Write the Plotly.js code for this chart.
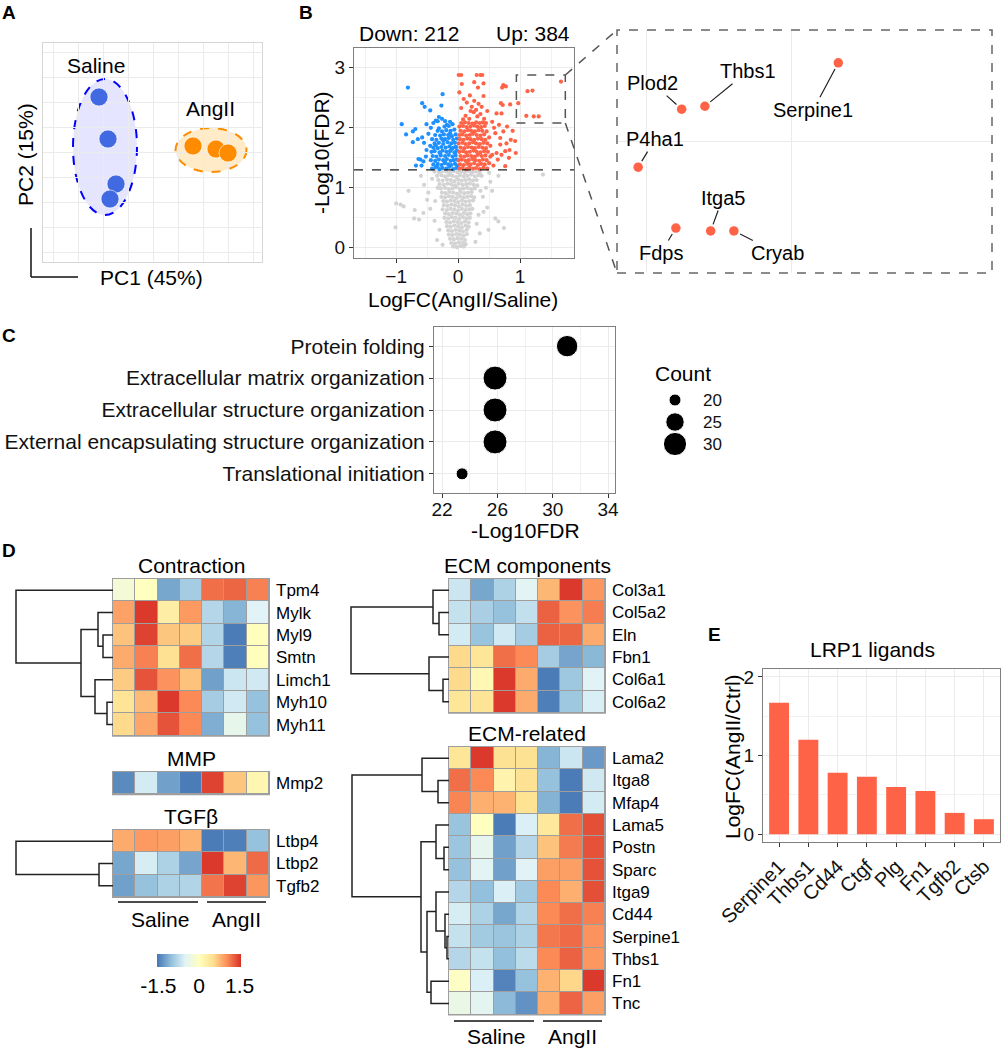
<!DOCTYPE html>
<html><head><meta charset="utf-8">
<script src="https://cdn.plot.ly/plotly-3.0.1.min.js"></script>
<style>html,body{margin:0;padding:0;background:#fff}#chart{width:1002px;height:1050px}</style>
</head><body><div id="chart"></div>
<script>
// ================= DATA =================
// Panel A: PCA scores
const salinePC1 = [-1.6, 2.0, 5.2, 2.8];
const salinePC2 = [42.0, 25.2, 7.2, 1.2];
const angiiPC1 = [36.0, 45.2, 50.0];
const angiiPC2 = [22.4, 21.2, 19.6];
// confidence ellipses: [centerX, centerY, radiusX, radiusY]
const ellipseSaline = [0.8, 22.0, 12.8, 27.2];
const ellipseAngII = [43.2, 20.8, 14.2, 8.8];

// Panel B: volcano
const downCount = 212, upCount = 384, fdrCut = 1.3;
const downPoints = [
[-0.81,2.67],[-0.25,2.56],[-0.58,2.41],[-0.54,2.35],[-0.45,2.29],[-0.27,2.37],[-0.91,2.06],[-0.84,1.89],[-0.73,1.94],[-0.69,1.98],
[-0.73,1.76],[-0.65,1.81],[-0.58,1.84],[-0.64,1.48],[-0.61,1.47],[-0.68,1.37],[-0.51,2.06],[-0.40,2.08],[-0.36,2.12],[-0.31,2.18],
[-0.33,2.11],[-0.21,2.11],[-0.13,2.10],[-0.15,2.03],[-0.45,1.70],[-0.51,1.63],[-0.52,1.52],[-0.56,1.44],[-0.59,1.37],[-0.05,1.68],
[-0.05,1.58],[-0.44,2.00],[-0.26,2.15],[-0.18,2.05],[-0.09,2.06],[-0.48,1.90],[-0.55,1.75],
[-0.42,1.32],[-0.36,1.34],[-0.30,1.31],[-0.25,1.33],[-0.19,1.32],[-0.14,1.35],[-0.08,1.31],[-0.03,1.33],
[-0.40,1.39],[-0.33,1.40],[-0.27,1.38],[-0.22,1.41],[-0.16,1.39],[-0.11,1.38],[-0.05,1.40],[-0.01,1.37],
[-0.44,1.46],[-0.37,1.45],[-0.31,1.47],[-0.24,1.46],[-0.18,1.48],[-0.12,1.45],[-0.07,1.46],[-0.02,1.47],
[-0.41,1.53],[-0.35,1.52],[-0.28,1.54],[-0.21,1.53],[-0.15,1.55],[-0.09,1.52],[-0.04,1.54],
[-0.43,1.60],[-0.38,1.61],[-0.30,1.59],[-0.25,1.62],[-0.19,1.60],[-0.13,1.61],[-0.06,1.59],[-0.02,1.62],
[-0.40,1.67],[-0.33,1.66],[-0.27,1.68],[-0.20,1.67],[-0.14,1.69],[-0.09,1.66],[-0.03,1.68],
[-0.38,1.74],[-0.31,1.75],[-0.24,1.73],[-0.17,1.76],[-0.11,1.74],[-0.05,1.75],
[-0.42,1.81],[-0.35,1.80],[-0.27,1.82],[-0.21,1.81],[-0.15,1.83],[-0.08,1.80],[-0.02,1.82],
[-0.37,1.88],[-0.29,1.87],[-0.23,1.89],[-0.16,1.88],[-0.10,1.86],[-0.04,1.89],
[-0.33,1.95],[-0.26,1.94],[-0.19,1.96],[-0.12,1.95],[-0.06,1.97],
[-0.34,1.36],[-0.21,1.43],[-0.29,1.57],[-0.11,1.64],[-0.36,1.71],[-0.24,1.79],[-0.13,1.91],[-0.31,1.99],[-0.22,2.02]
];
const upPoints = [
[0.01,2.88],[0.05,2.88],[0.30,2.88],[0.36,2.88],[0.39,2.88],
[0.06,2.73],[0.26,2.76],[0.32,2.67],[0.41,2.74],[0.02,2.59],[0.73,2.71],[0.77,2.69],[0.71,2.67],[0.19,2.54],[0.41,2.53],
[0.14,2.42],[0.26,2.45],[0.33,2.40],[0.22,2.35],[0.38,2.35],[0.29,2.30],[0.25,2.26],[0.36,2.23],[0.69,2.41],[0.72,2.38],
[0.84,2.39],[0.62,2.24],[0.70,2.24],[0.47,2.28],[0.09,2.48],[0.05,2.33],[0.12,2.20],[0.18,2.15],[0.42,2.15],[0.45,2.08],
[0.55,2.10],[0.31,2.19],[0.20,2.28],[0.08,2.14],
[0.60,1.91],[0.68,1.83],[0.73,1.94],[0.78,1.74],[0.85,1.80],[0.92,1.78],[0.68,1.72],[0.76,1.61],[0.83,1.63],[0.62,1.58],
[0.76,1.36],[0.57,1.37],[0.93,1.58],[0.82,1.50],[0.52,1.70],[0.58,2.00],[0.88,1.95],[0.64,1.47],[0.55,1.55],[0.70,1.55],
[0.50,1.84],[0.66,2.05],[0.79,2.02],
[0.02,1.32],[0.07,1.33],[0.13,1.31],[0.18,1.34],[0.24,1.32],[0.29,1.33],[0.35,1.31],[0.41,1.34],[0.47,1.32],
[0.03,1.39],[0.09,1.38],[0.15,1.40],[0.20,1.39],[0.26,1.41],[0.32,1.38],[0.37,1.40],[0.43,1.39],[0.50,1.41],
[0.01,1.46],[0.06,1.47],[0.12,1.45],[0.17,1.46],[0.23,1.48],[0.28,1.46],[0.34,1.45],[0.40,1.47],[0.46,1.46],
[0.04,1.53],[0.10,1.52],[0.15,1.54],[0.21,1.53],[0.27,1.52],[0.32,1.55],[0.38,1.53],[0.44,1.54],[0.52,1.52],
[0.02,1.60],[0.08,1.61],[0.13,1.59],[0.19,1.60],[0.25,1.62],[0.30,1.60],[0.36,1.59],[0.42,1.61],[0.48,1.60],
[0.04,1.67],[0.10,1.66],[0.16,1.68],[0.22,1.67],[0.27,1.66],[0.33,1.68],[0.39,1.67],[0.45,1.66],
[0.01,1.74],[0.07,1.75],[0.12,1.73],[0.18,1.74],[0.24,1.76],[0.29,1.74],[0.35,1.73],[0.41,1.75],[0.47,1.74],
[0.03,1.81],[0.09,1.80],[0.15,1.82],[0.20,1.81],[0.26,1.80],[0.32,1.82],[0.38,1.81],[0.44,1.80],
[0.02,1.88],[0.07,1.89],[0.13,1.87],[0.19,1.88],[0.24,1.90],[0.30,1.88],[0.36,1.87],[0.42,1.89],
[0.04,1.95],[0.10,1.94],[0.16,1.96],[0.21,1.95],[0.27,1.94],[0.33,1.96],[0.39,1.95],[0.46,1.94],
[0.02,2.02],[0.08,2.03],[0.14,2.01],[0.20,2.02],[0.26,2.04],[0.31,2.02],[0.37,2.01],[0.43,2.03],
[0.05,2.08],[0.11,2.09],[0.17,2.08],[0.23,2.07],[0.29,2.09],[0.35,2.08],[0.40,2.09]
];
const nsPoints = [
[-0.38,1.27],[-0.31,1.26],[-0.25,1.28],[-0.19,1.27],[-0.13,1.25],[-0.07,1.28],[-0.01,1.26],[0.05,1.27],[0.11,1.25],[0.17,1.28],[0.23,1.26],[0.29,1.27],[0.35,1.25],
[-0.34,1.20],[-0.27,1.21],[-0.21,1.19],[-0.15,1.21],[-0.09,1.20],[-0.03,1.18],[0.03,1.21],[0.09,1.19],[0.15,1.20],[0.21,1.22],[0.27,1.19],[0.33,1.21],
[-0.32,1.13],[-0.25,1.12],[-0.18,1.14],[-0.12,1.13],[-0.06,1.11],[0.00,1.14],[0.06,1.12],[0.12,1.13],[0.18,1.14],[0.24,1.12],[0.30,1.13],
[-0.30,1.06],[-0.23,1.05],[-0.17,1.07],[-0.11,1.06],[-0.05,1.04],[0.01,1.07],[0.07,1.05],[0.13,1.06],[0.19,1.07],[0.25,1.05],[0.31,1.04],
[-0.28,0.99],[-0.21,1.00],[-0.15,0.98],[-0.09,0.99],[-0.03,1.01],[0.03,0.98],[0.09,0.99],[0.15,1.00],[0.21,0.98],[0.27,0.99],
[-0.26,0.92],[-0.20,0.91],[-0.14,0.93],[-0.08,0.92],[-0.02,0.90],[0.04,0.93],[0.10,0.91],[0.16,0.92],[0.22,0.93],
[-0.27,0.85],[-0.21,0.84],[-0.15,0.86],[-0.09,0.85],[-0.03,0.83],[0.03,0.86],[0.09,0.84],[0.15,0.85],[0.21,0.86],[0.26,0.84],
[-0.24,0.78],[-0.18,0.77],[-0.12,0.79],[-0.06,0.78],[0.00,0.76],[0.06,0.79],[0.12,0.77],[0.18,0.78],[0.24,0.79],
[-0.23,0.71],[-0.17,0.70],[-0.11,0.72],[-0.05,0.71],[0.01,0.69],[0.07,0.72],[0.13,0.70],[0.19,0.71],
[-0.25,0.64],[-0.18,0.63],[-0.12,0.65],[-0.06,0.64],[0.00,0.62],[0.06,0.65],[0.12,0.63],[0.18,0.64],[0.23,0.65],
[-0.21,0.57],[-0.15,0.56],[-0.09,0.58],[-0.03,0.57],[0.03,0.55],[0.09,0.58],[0.15,0.56],[0.20,0.57],
[-0.22,0.50],[-0.16,0.49],[-0.10,0.51],[-0.04,0.50],[0.02,0.48],[0.08,0.51],[0.14,0.49],[0.19,0.50],
[-0.19,0.43],[-0.13,0.42],[-0.07,0.44],[-0.01,0.43],[0.05,0.41],[0.11,0.44],[0.17,0.42],
[-0.18,0.36],[-0.12,0.35],[-0.06,0.37],[0.00,0.36],[0.06,0.34],[0.12,0.37],[0.17,0.35],
[-0.16,0.29],[-0.10,0.28],[-0.04,0.30],[0.02,0.29],[0.08,0.27],[0.14,0.30],
[-0.15,0.22],[-0.09,0.21],[-0.03,0.23],[0.03,0.22],[0.09,0.20],[0.14,0.23],
[-0.13,0.15],[-0.07,0.14],[-0.01,0.16],[0.05,0.15],[0.11,0.13],
[-0.11,0.08],[-0.05,0.07],[0.01,0.09],[0.07,0.08],[0.12,0.06],
[-0.08,0.02],[-0.02,0.01],[0.04,0.03],[0.09,0.02],
[-1.01,0.34],[-1.00,0.74],[-0.88,0.69],[-0.93,0.72],[-0.70,0.63],[-0.56,0.58],[-0.71,0.49],[-0.63,0.47],[-0.34,0.13],[0.60,0.49],
[0.65,0.44],[0.74,0.33],[0.49,0.30],[0.35,0.24],[0.47,0.67],[1.37,1.22],[-0.48,0.92],[-0.55,1.05],[-0.42,1.15],[-0.50,0.80],
[-0.60,1.20],[-0.45,0.65],[0.45,1.00],[0.52,1.10],[0.40,0.85],[0.38,1.20],[0.50,1.25],[0.33,0.55],[-0.38,0.45],[-0.30,0.30],
[0.28,0.10],[-0.25,0.05],[0.41,0.60],[0.55,0.95],[-0.80,0.95],[0.65,1.20],[-0.37,0.78],[0.30,0.40],[-0.33,1.00],[0.36,0.95]
];
// labelled genes (zoom box)
const labGenes = ['Serpine1','Thbs1','Plod2','P4ha1','Fdps','Itga5','Cryab'];
const labLogFC = [1.66, 1.20, 1.12, 0.97, 1.10, 1.22, 1.30];
const labFDR = [2.77, 2.62, 2.61, 2.41, 2.20, 2.19, 2.19];
const zoomBoxX = [0.94, 1.73], zoomBoxY = [2.08, 2.88];

// Panel C: GO enrichment
const goTerms = ['Protein folding','Extracellular matrix organization','Extracellular structure organization','External encapsulating structure organization','Translational initiation'];
const goLogFDR = [31.04, 25.83, 25.83, 25.83, 23.45];
const goCount = [28, 31, 31, 31, 20];
const countBreaks = [20, 25, 30];

// Panel D: heatmaps (row z-scores)
const samples = ['Saline1','Saline2','Saline3','Saline4','AngII1','AngII2','AngII3'];
const contractionGenes = ['Tpm4','Mylk','Myl9','Smtn','Limch1','Myh10','Myh11'];
const contractionZ = [
[-0.2, 0.0, -1.2, -0.9, 1.2, 1.25, 1.1],
[0.9, 1.5, 0.3, 0.95, -0.8, -1.1, -0.5],
[0.7, 1.45, 0.68, 0.65, -0.82, -1.5, 0.02],
[0.85, 1.1, 0.5, 1.2, -0.8, -1.48, 0.02],
[0.65, 1.35, 1.0, 0.7, -1.25, -0.65, -0.62],
[0.45, 0.75, 1.5, 1.05, -0.9, -0.62, -1.0],
[0.55, 0.88, 1.35, 1.05, -1.15, -0.4, -1.0]];
const mmpGenes = ['Mmp2'];
const mmpZ = [[-1.4, -0.6, -1.25, -1.5, 1.45, 0.68, 0.15]];
const tgfbGenes = ['Ltbp4','Ltbp2','Tgfb2'];
const tgfbZ = [
[0.85, 0.95, 0.92, 0.8, -1.5, -1.48, -1.0],
[-1.2, -0.58, -0.85, -1.22, 1.5, 0.78, 1.22],
[-1.25, -1.0, -0.85, -0.82, 1.17, 1.45, 0.98]];
const ecmCompGenes = ['Col3a1','Col5a2','Eln','Fbn1','Col6a1','Col6a2'];
const ecmCompZ = [
[-0.65, -1.2, -0.85, -0.48, 0.77, 1.5, 0.97],
[-0.7, -0.87, -1.0, -0.72, 1.27, 1.0, 1.12],
[-0.6, -0.98, -0.62, -0.9, 1.27, 1.25, 0.85],
[0.55, 0.42, 1.2, 1.05, -0.9, -1.22, -1.08],
[0.55, 0.12, 1.5, 0.85, -1.5, -0.95, -0.5],
[0.42, 0.45, 1.5, 0.85, -1.48, -0.95, -0.56]];
const ecmRelGenes = ['Lama2','Itga8','Mfap4','Lama5','Postn','Sparc','Itga9','Cd44','Serpine1','Thbs1','Fn1','Tnc'];
const ecmRelZ = [
[0.42, 1.5, 0.48, 0.48, -1.1, -0.65, -1.3],
[1.2, 1.05, 0.2, 0.48, -1.0, -1.5, -0.63],
[1.08, 0.82, 0.8, 0.47, -1.12, -1.5, -0.6],
[-0.98, 0.0, -1.5, -0.55, 0.38, 1.2, 1.38],
[-0.96, -0.42, -1.25, -0.8, 0.7, 1.14, 1.36],
[-1.0, -0.48, -1.25, -0.5, 0.92, 0.92, 1.36],
[-0.8, -1.02, -0.55, -0.93, 1.05, 0.82, 1.38],
[-0.58, -0.85, -1.2, -0.82, 1.05, 1.2, 1.1],
[-0.7, -0.92, -0.97, -0.85, 1.15, 1.22, 1.0],
[-0.8, -0.7, -1.02, -0.75, 1.05, 1.27, 0.97],
[-0.05, -0.55, -1.45, -1.0, 0.8, 0.57, 1.5],
[-0.35, -0.45, -1.07, -1.35, 0.85, 1.26, 0.92]];
// hierarchical clustering merges (hclust style: negative = leaf, positive = earlier merge), with height
const contractionMerges = [[-3,-4,1.0],[-6,-7,0.6],[-2,1,1.5],[-5,2,1.8],[3,4,3.2],[-1,5,9.7]];
const tgfbMerges = [[-2,-3,1.4],[-1,1,9.7]];
const ecmCompMerges = [[-2,-3,1.0],[-1,1,1.6],[-5,-6,0.6],[-4,3,2.0],[2,4,9.8]];
const ecmRelMerges = [[-2,-3,1.1],[-1,1,2.7],[-5,-6,0.5],[-4,3,1.3],[-9,-10,0.2],[-8,5,0.4],[-7,6,1.3],[-11,-12,1.8],[7,8,2.2],[4,9,2.8],[2,10,9.7]];
const zLegendTicks = [-1.5, 0, 1.5];

// Panel E: LRP1 ligands
const lrpGenes = ['Serpine1','Thbs1','Cd44','Ctgf','Plg','Fn1','Tgfb2','Ctsb'];
const lrpLogFC = [1.67, 1.20, 0.78, 0.73, 0.60, 0.55, 0.27, 0.19];

// ================= LAYOUT HELPERS =================
const W = 1002, H = 1050;
const FONT = 'Liberation Sans, Arial, Helvetica, sans-serif';
const TXT = '#000';
const dx = (a,b) => [a/W, b/W];
const dy = (a,b) => [1-b/H, 1-a/H];
const px = x => x/W, py = y => 1 - y/H;
const rdylbu = [[0,'#4575B4'],[1/6,'#91BFDB'],[2/6,'#E0F3F8'],[3/6,'#FFFFBF'],[4/6,'#FEE090'],[5/6,'#FC8D59'],[1,'#D73027']];
const RED = '#FF6347', BLUE = '#1E90FF', GREY = '#D3D3D3';

const traces = [];
const shapes = [];
const annotations = [];
const layout = {
  width: W, height: H, margin: {l:0, r:0, t:0, b:0},
  paper_bgcolor: '#fff', plot_bgcolor: 'rgba(0,0,0,0)',
  showlegend: false, font: {family: FONT, color: TXT, size: 19},
  hovermode: false
};
function ann(text, x, y, size, extra) {
  annotations.push(Object.assign({text, xref:'paper', yref:'paper', x:px(x), y:py(y), showarrow:false,
    xanchor:'center', yanchor:'middle', font:{family:FONT, size:size, color:TXT}}, extra||{}));
}
const boxAxis = (dom, range, extra) => Object.assign({domain: dom, range: range, zeroline:false, showline:true, mirror:true,
  linecolor:'#7F7F7F', linewidth:1, gridcolor:'#EBEBEB', ticks:'outside', ticklen:4, tickcolor:'#333',
  tickfont:{family:FONT, size:19, color:'#111'}, fixedrange:true}, extra||{});

// ================= PANEL A =================
layout.xaxis = {domain: dx(43,262), range:[-24,63.6], anchor:'y', showticklabels:false, ticks:'', dtick:10, tick0:0,
  gridcolor:'#EBEBEB', zeroline:false, showline:true, mirror:true, linecolor:'#D6D6D6', linewidth:1};
layout.yaxis = {domain: dy(43,262), range:[-24,63.6], anchor:'x', showticklabels:false, ticks:'', dtick:10, tick0:0,
  gridcolor:'#EBEBEB', zeroline:false, showline:true, mirror:true, linecolor:'#D6D6D6', linewidth:1};
[[ellipseSaline,'#0000FF','rgba(0,0,255,0.10)'],[ellipseAngII,'#FF8C00','rgba(255,165,0,0.22)']].forEach(([e,c,f]) => {
  shapes.push({type:'circle', xref:'x', yref:'y', x0:e[0]-e[2], x1:e[0]+e[2], y0:e[1]-e[3], y1:e[1]+e[3],
    line:{color:c, width:2, dash:'dash'}, fillcolor:f, layer:'below'});
});
traces.push({type:'scatter', mode:'markers', x:salinePC1, y:salinePC2, xaxis:'x', yaxis:'y',
  marker:{size:18, color:'#4169E1', opacity:1, line:{color:'rgba(255,255,255,0.6)', width:1}}});
traces.push({type:'scatter', mode:'markers', x:angiiPC1, y:angiiPC2, xaxis:'x', yaxis:'y',
  marker:{size:18, color:'#FF8C00', opacity:1, line:{color:'rgba(255,255,255,0.6)', width:1}}});
ann('Saline', 96, 66, 21);
ann('AngII', 210, 109, 21);
ann('PC1 (45%)', 151, 277, 21);
ann('PC2 (15%)', 25, 155, 21, {textangle:-90});
shapes.push({type:'line', xref:'paper', yref:'paper', x0:px(31), x1:px(31), y0:py(228), y1:py(277), line:{color:'#111', width:1.5}});
shapes.push({type:'line', xref:'paper', yref:'paper', x0:px(31), x1:px(78), y0:py(277), y1:py(277), line:{color:'#111', width:1.5}});

// ================= PANEL B =================
const vx = [-1.68, 1.87], vy = [-0.17, 3.33];
const vBox = {l:354, r:574, t:48, b:258};
layout.xaxis2 = boxAxis(dx(vBox.l,vBox.r), vx, {anchor:'y2', tick0:0, dtick:1, ticklabelstandoff:-3, minor:{dtick:0.5, showgrid:true, gridcolor:'#F2F2F2'}});
layout.yaxis2 = boxAxis(dy(vBox.t,vBox.b), vy, {anchor:'x2', tick0:0, dtick:1, minor:{dtick:0.5, showgrid:true, gridcolor:'#F2F2F2'}});
const pts = (arr, i) => arr.map(p => p[i]);
traces.push({type:'scatter', mode:'markers', x:pts(nsPoints,0), y:pts(nsPoints,1), xaxis:'x2', yaxis:'y2', marker:{size:4.2, color:GREY}});
traces.push({type:'scatter', mode:'markers', x:pts(downPoints,0), y:pts(downPoints,1), xaxis:'x2', yaxis:'y2', marker:{size:4.2, color:BLUE}});
traces.push({type:'scatter', mode:'markers', x:pts(upPoints,0), y:pts(upPoints,1), xaxis:'x2', yaxis:'y2', marker:{size:4.2, color:RED}});
traces.push({type:'scatter', mode:'markers', x:labLogFC, y:labFDR, xaxis:'x2', yaxis:'y2', marker:{size:4.2, color:RED}});
shapes.push({type:'line', xref:'x2 domain', yref:'y2', x0:0, x1:1, y0:fdrCut, y1:fdrCut, line:{color:'#222', width:1.2, dash:'dash'}});
shapes.push({type:'rect', xref:'x2', yref:'y2', x0:zoomBoxX[0], x1:zoomBoxX[1], y0:zoomBoxY[0], y1:zoomBoxY[1], line:{color:'#555', width:1.5, dash:'dash'}});
const vPX = x => vBox.l + (x - vx[0])/(vx[1]-vx[0])*(vBox.r-vBox.l);
const vPY = y => vBox.b - (y - vy[0])/(vy[1]-vy[0])*(vBox.b-vBox.t);
const iBox = {l:617, r:992, t:30, b:273};
shapes.push({type:'line', xref:'paper', yref:'paper', x0:px(vPX(zoomBoxX[1])), y0:py(vPY(zoomBoxY[1])), x1:px(iBox.l), y1:py(iBox.t), line:{color:'#555', width:1.5, dash:'dash'}});
shapes.push({type:'line', xref:'paper', yref:'paper', x0:px(vPX(zoomBoxX[1])), y0:py(vPY(zoomBoxY[0])), x1:px(iBox.l), y1:py(iBox.b), line:{color:'#555', width:1.5, dash:'dash'}});
ann('Down: ' + downCount, 409, 33, 21);
ann('Up: ' + upCount, 533, 33, 21);
ann('-Log10(FDR)', 322, 153, 21, {textangle:-90});
ann('LogFC(AngII/Saline)', 463, 299, 21);
// inset
layout.xaxis3 = {domain: dx(iBox.l,iBox.r), range:[0.897,2.19], anchor:'y3', tickvals:[1,1.5], showticklabels:false, ticks:'', gridcolor:'#EBEBEB', zeroline:false, showline:false};
layout.yaxis3 = {domain: dy(iBox.t,iBox.b), range:[2.045,2.883], anchor:'x3', tickvals:[2.5], showticklabels:false, ticks:'', gridcolor:'#EBEBEB', zeroline:false, showline:false};
shapes.push({type:'rect', xref:'x3 domain', yref:'y3 domain', x0:0, x1:1, y0:0, y1:1, line:{color:'#666', width:1.5, dash:'dash'}});
traces.push({type:'scatter', mode:'markers', x:labLogFC, y:labFDR, xaxis:'x3', yaxis:'y3', marker:{size:9.5, color:RED}});
const labOffsets = [[-25,47],[43,-35],[-29,-26],[17,-28],[-15,25],[12,-33],[44,22]];
labGenes.forEach((g,i) => annotations.push({text:g, xref:'x3', yref:'y3', x:labLogFC[i], y:labFDR[i],
  ax:labOffsets[i][0], ay:labOffsets[i][1], showarrow:true, arrowhead:0, arrowwidth:1.2, arrowcolor:'#222', standoff:7,
  font:{family:FONT, size:20, color:TXT}}));

// ================= PANEL C =================
layout.xaxis4 = boxAxis(dx(434,615), [21.42,34.5], {anchor:'y4', tick0:22, dtick:4, ticklabelstandoff:-5, minor:{dtick:2, showgrid:true, gridcolor:'#F2F2F2'}});
layout.yaxis4 = boxAxis(dy(327,493), [4.6,-0.6], {anchor:'x4', type:'category', categoryarray:goTerms, categoryorder:'array', tickfont:{family:FONT, size:21, color:'#111'}});
const sizeOf = c => Math.sqrt(144*(c-16.33)/3.67);
traces.push({type:'scatter', mode:'markers', x:goLogFDR, y:goTerms, xaxis:'x4', yaxis:'y4', marker:{size:goCount.map(sizeOf), color:'#000', opacity:1}});
ann('-Log10FDR', 525, 530, 21);
ann('Count', 683, 373, 21);
layout.xaxis5 = {domain: dx(664,686), range:[-1,1], anchor:'y5', visible:false};
layout.yaxis5 = {domain: dy(389,455), range:[2.5,-0.5], anchor:'x5', side:'right', tickvals:[0,1,2], ticktext:countBreaks.map(String),
  showgrid:false, zeroline:false, showline:false, ticks:'', ticklabelstandoff:16, tickfont:{family:FONT, size:17, color:'#111'}};
traces.push({type:'scatter', mode:'markers', x:countBreaks.map(()=>0), y:countBreaks.map((c,i)=>i), xaxis:'x5', yaxis:'y5', marker:{size:countBreaks.map(sizeOf), color:'#000', opacity:1}});

// ================= PANEL D =================
const ZMIN = -1.55, ZMAX = 1.55;
const heatmaps = [
  {genes:contractionGenes, z:contractionZ, l:113, r:269, t:579, rh:22.4, title:'Contraction', merges:contractionMerges},
  {genes:mmpGenes, z:mmpZ, l:113, r:269, t:772, rh:22.3, title:'MMP', merges:null},
  {genes:tgfbGenes, z:tgfbZ, l:113, r:269, t:830, rh:22.3, title:'TGFβ', merges:tgfbMerges},
  {genes:ecmCompGenes, z:ecmCompZ, l:449, r:605, t:579, rh:22.3, title:'ECM components', merges:ecmCompMerges},
  {genes:ecmRelGenes, z:ecmRelZ, l:449, r:605, t:747, rh:22.3, title:'ECM-related', merges:ecmRelMerges}
];
const dendX = [], dendY = [];
heatmaps.forEach((hm, k) => {
  const n = k + 6, xa = 'x' + n, ya = 'y' + n;
  const b = hm.t + hm.rh*hm.genes.length;
  layout['xaxis'+n] = {domain: dx(hm.l, hm.r), anchor: ya, showticklabels:false, showgrid:false, zeroline:false, ticks:'', showline:false, fixedrange:true};
  layout['yaxis'+n] = {domain: dy(hm.t, b), anchor: xa, side:'right', autorange:'reversed', showgrid:false, zeroline:false, ticks:'',
    showline:false, ticklabelstandoff:6, tickfont:{family:FONT, size:17, color:'#000'}, fixedrange:true};
  shapes.push({type:'rect', xref:xa+' domain', yref:ya+' domain', x0:0, x1:1, y0:0, y1:1, fillcolor:'#9E9E9E', line:{color:'#9E9E9E', width:2}, layer:'below'});
  const tr = {type:'heatmap', x:samples, y:hm.genes, z:hm.z, xaxis:xa, yaxis:ya, colorscale:rdylbu, zmin:ZMIN, zmax:ZMAX,
    xgap:1, ygap:1, showscale:false};
  if (k === 0) {
    tr.showscale = true;
    tr.colorbar = {orientation:'h', x:px(199), xanchor:'center', y:py(954), yanchor:'top', len:84, lenmode:'pixels',
      thickness:13, thicknessmode:'pixels', tickvals:zLegendTicks, ticktext:zLegendTicks.map(String), ticks:'',
      tickfont:{family:FONT, size:21, color:'#000'}, outlinewidth:0, xpad:0, ypad:0};
  }
  traces.push(tr);
  ann(hm.title, (hm.l+hm.r)/2, hm.t - 14, 21);
  if (hm.merges) {
    const nodes = [];
    const at = c => c < 0 ? {x: hm.l, y: hm.t + hm.rh*(-c-0.5)} : nodes[c-1];
    hm.merges.forEach(([a, c, h]) => {
      const A = at(a), B = at(c), x = hm.l - h*10;
      dendX.push(A.x, x, x, B.x, null); dendY.push(A.y, A.y, B.y, B.y, null);
      nodes.push({x, y:(A.y+B.y)/2});
    });
  }
});
layout.xaxis11 = boxAxis(dx(763,1000), [-0.55,7.55], {anchor:'y11', type:'category', tickangle:-45, tickfont:{family:FONT, size:20, color:'#111'}});
layout.yaxis11 = boxAxis(dy(669,842), [-0.1,2.1], {anchor:'x11', tick0:0, dtick:1, minor:{dtick:0.5, showgrid:true, gridcolor:'#F2F2F2'}});
traces.push({type:'bar', x:lrpGenes, y:lrpLogFC, xaxis:'x11', yaxis:'y11', width:0.68, marker:{color:RED, line:{width:0}}});
ann('LRP1 ligands', 872, 649, 21);
ann('LogFC(AngII/Ctrl)', 732, 757, 21, {textangle:-90});

// dendrogram overlay (pixel space)
layout.xaxis12 = {domain:[0,1], range:[0,W], anchor:'y12', visible:false, fixedrange:true};
layout.yaxis12 = {domain:[0,1], range:[H,0], anchor:'x12', visible:false, fixedrange:true};
traces.push({type:'scatter', mode:'lines', x:dendX, y:dendY, xaxis:'x12', yaxis:'y12', line:{color:'#222', width:1.5}, connectgaps:false});

// group bars under heatmaps
[[113, 902, 919], [449, 1021, 1036]].forEach(([l, yl, yt]) => {
  shapes.push({type:'line', xref:'paper', yref:'paper', x0:px(l+5), x1:px(l+85), y0:py(yl), y1:py(yl), line:{color:'#111', width:1.5}});
  shapes.push({type:'line', xref:'paper', yref:'paper', x0:px(l+94), x1:px(l+153), y0:py(yl), y1:py(yl), line:{color:'#111', width:1.5}});
  ann('Saline', l+47, yt, 21);
  ann('AngII', l+123, yt, 21);
});

// panel letters
[['A',9,12],['B',306,12],['C',9,335],['D',9,550],['E',714,634]].forEach(([t,x,y]) => ann('<b>'+t+'</b>', x, y, 19));

layout.shapes = shapes;
layout.annotations = annotations;
Plotly.newPlot('chart', traces, layout, {staticPlot:true, displayModeBar:false});
</script></body></html>
